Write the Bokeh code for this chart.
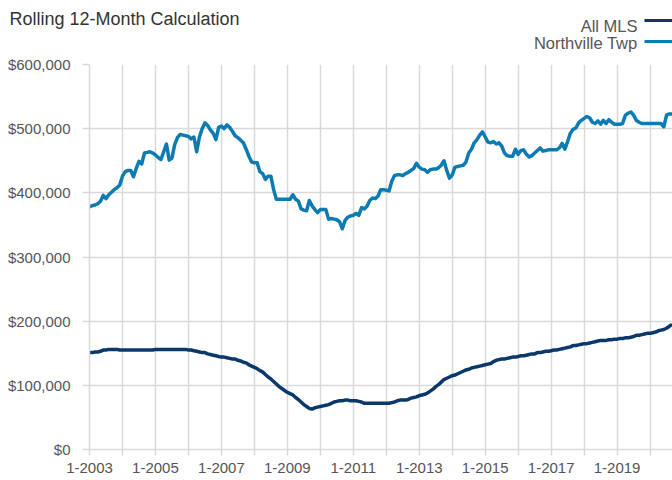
from bokeh.plotting import figure
from bokeh.layouts import column
from bokeh.models import FixedTicker, NumeralTickFormatter, Label, BoxAnnotation, Range1d
from bokeh.embed import file_html
from bokeh.resources import INLINE

FONT = "Liberation Sans"

start_year = 2003
title_text = "Rolling 12-Month Calculation"
legend_names = ["All MLS", "Northville Twp"]

# Rolling 12-month values, thousands of dollars, monthly from 1-2003
all_mls_k = [
    151, 151, 152, 152, 153, 155, 155, 156, 156, 156, 156, 155,   # 2003
    155, 155, 155, 155, 155, 155, 155, 155, 155, 155, 155, 155,   # 2004
    156, 156, 156, 156, 156, 156, 156, 156, 156, 156, 156, 156,   # 2005
    155, 155, 154, 153, 152, 151, 151, 149, 148, 147, 146, 145,   # 2006
    144, 144, 143, 142, 141, 141, 139, 138, 136, 135, 132, 130,   # 2007
    128, 126, 123, 121, 117, 113, 110, 106, 102, 98, 95, 92,      # 2008
    89, 87, 85, 81, 78, 74, 70, 67, 64, 63, 65, 66,               # 2009
    67, 68, 69, 70, 72, 74, 75, 76, 76, 77, 77, 76,               # 2010
    76, 76, 75, 74, 72, 72, 72, 72, 72, 72, 72, 72,               # 2011
    72, 72, 73, 74, 76, 77, 77, 77, 78, 80, 81, 82,               # 2012
    84, 85, 86, 88, 91, 94, 98, 101, 105, 109, 111, 113,          # 2013
    115, 116, 118, 120, 122, 124, 125, 127, 128, 129, 130, 131,   # 2014
    132, 133, 134, 137, 139, 140, 141, 141, 142, 143, 144, 144,   # 2015
    145, 146, 146, 147, 148, 149, 149, 151, 151, 152, 153, 153,   # 2016
    154, 155, 155, 156, 157, 158, 159, 160, 162, 162, 163, 164,   # 2017
    165, 165, 166, 167, 168, 169, 170, 170, 170, 171, 171, 172,   # 2018
    172, 173, 173, 174, 174, 175, 176, 178, 178, 179, 180, 181,   # 2019
    181, 182, 183, 185, 186, 187, 189, 192, 195,                  # 2020
]

northville_k = [
    378, 380, 381, 383, 387, 396, 391, 397, 401, 405, 408, 412,   # 2003
    426, 433, 435, 435, 425, 438, 449, 445, 462, 463, 464, 462,   # 2004
    459, 455, 452, 464, 476, 451, 454, 475, 486, 491, 490, 489,   # 2005
    488, 484, 487, 464, 487, 500, 509, 505, 498, 493, 483, 502,   # 2006
    504, 500, 506, 502, 496, 489, 486, 482, 478, 468, 457, 448,   # 2007
    447, 447, 433, 430, 421, 426, 426, 405, 390, 390, 390, 390,   # 2008
    390, 390, 397, 390, 387, 375, 373, 372, 388, 380, 374, 369,   # 2009
    374, 374, 374, 359, 360, 359, 358, 355, 344, 357, 362, 364,   # 2010
    365, 368, 365, 377, 375, 379, 388, 392, 391, 395, 405, 405,   # 2011
    404, 403, 418, 427, 428, 428, 427, 430, 432, 435, 438, 446,   # 2012
    440, 437, 436, 432, 436, 437, 437, 439, 443, 450, 435, 423,   # 2013
    428, 440, 441, 442, 443, 448, 462, 468, 478, 483, 490, 495,   # 2014
    487, 479, 478, 480, 476, 478, 473, 462, 458, 457, 457, 468,   # 2015
    460, 466, 467, 460, 456, 458, 462, 466, 470, 465, 466, 467,   # 2016
    467, 467, 467, 470, 477, 468, 480, 493, 499, 501, 509, 513,   # 2017
    516, 519, 517, 510, 508, 512, 507, 513, 508, 514, 510, 507,   # 2018
    507, 507, 508, 521, 524, 526, 521, 513, 510, 508, 508, 508,   # 2019
    508, 508, 508, 508, 508, 503, 521, 523, 523,                  # 2020
]

tick_years = list(range(2003, 2021))
tick_labels = {y: (f"1-{y}" if y % 2 == 1 else "") for y in tick_years}
y_ticks = [0, 100000, 200000, 300000, 400000, 500000, 600000]

x = [start_year + i / 12 for i in range(len(all_mls_k))]
y_all = [v * 1000 for v in all_mls_k]
y_nv = [v * 1000 for v in northville_k]

DARK = "#0b386b"
BLUE = "#0b7bb2"
GRID = "#d9d9d9"
TXT = "#555555"

W = 672
HEAD_H = 52

# ---------- header: title + legend ----------
head = figure(width=W, height=HEAD_H, output_backend="svg", toolbar_location=None,
              x_range=Range1d(0, W), y_range=Range1d(HEAD_H, 0),
              min_border=0, x_axis_type=None, y_axis_type=None)
head.frame_align = False
head.outline_line_color = None
head.xgrid.visible = False
head.ygrid.visible = False

head.add_layout(Label(x=9, y=18, text=title_text, text_font=FONT,
                      text_font_size="18px", text_color="#333333",
                      text_align="left", text_baseline="alphabetic"))

for name, col, ybase, yline in [(legend_names[0], DARK, 25, 20),
                                (legend_names[1], BLUE, 42, 41)]:
    head.add_layout(Label(x=637, y=ybase, text=name, text_font=FONT,
                          text_font_size="16.5px", text_color=TXT,
                          text_align="right", text_baseline="alphabetic"))
    head.add_layout(BoxAnnotation(left=644, right=W, top=yline - 1.5, bottom=yline + 1.5,
                                  fill_color=col, fill_alpha=1, line_color=None))

# ---------- main chart ----------
p = figure(width=W, height=480 - HEAD_H, output_backend="svg", toolbar_location=None,
           x_range=Range1d(2003, 2020.68), y_range=Range1d(0, 600000),
           min_border_left=89, min_border_right=0, min_border_top=64 - HEAD_H,
           min_border_bottom=31)
p.frame_align = False
p.outline_line_color = None

p.line(x, y_nv, line_color=BLUE, line_width=3.5, line_join="round")
p.line(x, y_all, line_color=DARK, line_width=3.5, line_join="round")

p.xaxis.ticker = FixedTicker(ticks=tick_years)
p.xaxis.major_label_overrides = tick_labels
p.yaxis.ticker = FixedTicker(ticks=y_ticks)
p.yaxis.formatter = NumeralTickFormatter(format="$0,0")

for ax in (p.xaxis, p.yaxis):
    ax.axis_line_color = GRID
    ax.axis_line_width = 1.5
    ax.major_tick_line_color = GRID
    ax.major_tick_line_width = 1.5
    ax.minor_tick_line_color = None
    ax.major_tick_in = 0
    ax.major_label_text_font = FONT
    ax.major_label_text_font_size = "15px"
    ax.major_label_text_color = TXT
p.xaxis.major_tick_out = 6
p.xaxis.major_label_standoff = 7
p.yaxis.major_tick_out = 7
p.yaxis.major_label_standoff = 12

p.xgrid.grid_line_color = GRID
p.xgrid.grid_line_width = 1.5
p.ygrid.grid_line_color = GRID
p.ygrid.grid_line_width = 1.5

layout = column(head, p, spacing=0)
open("out.html", "w").write(file_html(layout, INLINE))
